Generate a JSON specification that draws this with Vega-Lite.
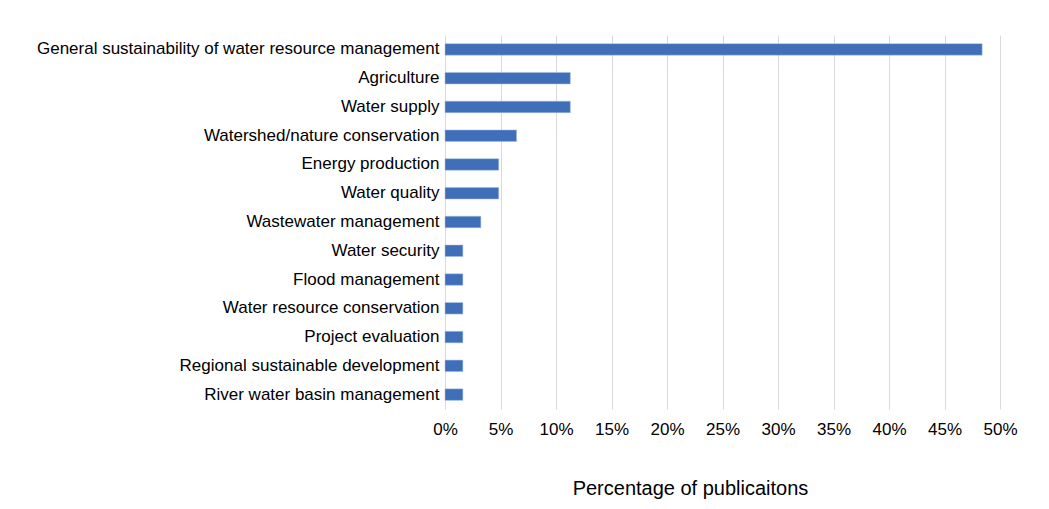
{
  "$schema": "https://vega.github.io/schema/vega-lite/v6.json",
  "autosize": "none",
  "width": 555,
  "height": 374,
  "padding": {"left": 445, "top": 35, "right": 49, "bottom": 100},
  "background": "white",
  "config": {"view": {"stroke": null}, "font": "Liberation Sans"},
  "data": {"values": [
    {"topic": "General sustainability of water resource management", "pct": 0.4839},
    {"topic": "Agriculture", "pct": 0.1129},
    {"topic": "Water supply", "pct": 0.1129},
    {"topic": "Watershed/nature conservation", "pct": 0.0645},
    {"topic": "Energy production", "pct": 0.0484},
    {"topic": "Water quality", "pct": 0.0484},
    {"topic": "Wastewater management", "pct": 0.0323},
    {"topic": "Water security", "pct": 0.0161},
    {"topic": "Flood management", "pct": 0.0161},
    {"topic": "Water resource conservation", "pct": 0.0161},
    {"topic": "Project evaluation", "pct": 0.0161},
    {"topic": "Regional sustainable development", "pct": 0.0161},
    {"topic": "River water basin management", "pct": 0.0161}
  ]},
  "mark": {"type": "bar", "color": "#3F6FB8", "stroke": "#A9BFE3", "strokeWidth": 0.5},
  "encoding": {
    "y": {"field": "topic", "type": "nominal", "sort": null,
      "scale": {"paddingInner": 0.6, "paddingOuter": 0.3},
      "axis": {"title": null, "domain": false, "ticks": false, "labelFontSize": 17, "labelColor": "#000000", "labelPadding": 6, "labelLimit": 500}},
    "x": {"field": "pct", "type": "quantitative",
      "scale": {"domain": [0, 0.5], "nice": false},
      "axis": {"format": ".0%", "values": [0,0.05,0.1,0.15,0.2,0.25,0.3,0.35,0.4,0.45,0.5], "labelOverlap": false, "labelFlush": false, "labelDx": 5, "domain": false, "ticks": false, "gridColor": "#D9D9D9", "gridWidth": 1, "labelFontSize": 17, "labelColor": "#000000", "labelPadding": 12,
        "title": "Percentage of publicaitons", "titleFontSize": 20, "titleFontWeight": "normal", "titleColor": "#000000", "titleX": 245, "titleY": 79, "titleAlign": "center", "titleBaseline": "middle"}}
  }
}
